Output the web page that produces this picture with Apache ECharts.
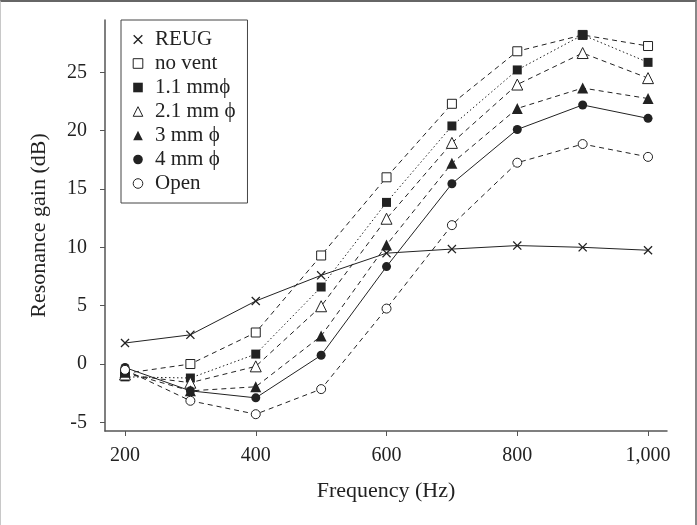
<!DOCTYPE html>
<html>
<head>
<meta charset="utf-8">
<script src="https://cdn.jsdelivr.net/npm/echarts@6/dist/echarts.min.js"></script>
<style>
    html, body { margin: 0; padding: 0; background: #fff; }
    #chart { width: 697px; height: 525px; }
    #frame {
        position: absolute; left: 0; top: 0; width: 697px; height: 525px;
        box-sizing: border-box; pointer-events: none;
        border-top: 2px solid #666; border-right: 2px solid #888; border-left: 1px solid #c8c8c8;
    }
</style>
</head>
<body>
<div id="chart"></div>
<div id="frame"></div>
<script>
// Resonance gain vs frequency

var freqs = [200, 300, 400, 500, 600, 700, 800, 900, 1000];
var xTicks = [200, 400, 600, 800, 1000];
var yTicks = [-5, 0, 5, 10, 15, 20, 25];

var reug   = [1.8, 2.5, 5.4, 7.6, 9.5, 9.85, 10.15, 10.0, 9.75];
var noVent = [-0.8, 0.0, 2.7, 9.3, 16.0, 22.3, 26.8, 28.2, 27.25];
var vent11 = [-1.1, -1.2, 0.85, 6.6, 13.85, 20.4, 25.2, 28.2, 25.85];
var vent21 = [-0.9, -1.6, -0.2, 4.95, 12.45, 18.95, 23.95, 26.65, 24.5];
var vent3  = [-0.7, -2.3, -1.95, 2.4, 10.2, 17.2, 21.9, 23.65, 22.75];
var vent4  = [-0.3, -2.3, -2.9, 0.75, 8.35, 15.45, 20.1, 22.2, 21.05];
var open   = [-0.5, -3.15, -4.3, -2.15, 4.75, 11.9, 17.25, 18.85, 17.75];

var ink = '#222';
var font = "'Liberation Serif', 'DejaVu Serif', serif";
var cross = 'path://M0,1L1,0L5,4L9,0L10,1L6,5L10,9L9,10L5,6L1,10L0,9L4,5Z';

function pairs(vals) {
    return freqs.map(function (f, i) { return [f, vals[i]]; });
}

function line(name, vals, symbol, size, filled, dash) {
    return {
        name: name,
        type: 'line',
        data: pairs(vals),
        symbol: symbol,
        symbolSize: size,
        lineStyle: { color: ink, width: 1, type: dash },
        itemStyle: { color: filled ? ink : '#fff', borderColor: ink, borderWidth: filled ? 0 : 1 }
    };
}

document.addEventListener('DOMContentLoaded', () => {
    echarts.init(document.querySelector('#chart')).setOption({
        animation: false,
        textStyle: { fontFamily: font, color: ink },
        grid: { left: 105, right: 30, top: 20, bottom: 94 },
        legend: {
            orient: 'vertical',
            left: 121,
            top: 20,
            padding: [9, 12, 9, 5],
            itemWidth: 24,
            itemHeight: 12,
            itemGap: 3,
            borderColor: '#444',
            borderWidth: 1,
            itemStyle: { borderWidth: 'inherit' },
            lineStyle: { opacity: 0, width: 0 },
            textStyle: { fontFamily: font, fontSize: 21, lineHeight: 20, color: ink }
        },
        xAxis: {
            type: 'value',
            min: 169.4,
            max: 1029,
            name: 'Frequency (Hz)',
            nameLocation: 'middle',
            nameGap: 49,
            nameTextStyle: { fontSize: 22, color: ink },
            axisLine: { onZero: false, lineStyle: { color: '#555', width: 1.5 } },
            axisTick: { customValues: xTicks, length: 5, lineStyle: { color: '#555' } },
            axisLabel: {
                customValues: xTicks,
                margin: 15,
                fontSize: 20,
                color: ink,
                formatter: function (v) { return v.toLocaleString('en-US'); }
            },
            splitLine: { show: false }
        },
        yAxis: {
            type: 'value',
            min: -5.74,
            max: 29.48,
            name: 'Resonance gain (dB)',
            nameLocation: 'middle',
            nameGap: 55,
            nameTextStyle: { fontSize: 22, color: ink },
            axisLine: { show: true, lineStyle: { color: '#555', width: 1.5 } },
            axisTick: { show: true, customValues: yTicks, length: 5, lineStyle: { color: '#555' } },
            axisLabel: { customValues: yTicks, margin: 18, fontSize: 20, color: ink },
            splitLine: { show: false }
        },
        series: [
            line('REUG', reug, cross, 9, true, 'solid'),
            line('no vent', noVent, 'rect', 9, false, [5, 4]),
            line('1.1 mmϕ', vent11, 'rect', 9, true, [1.5, 2.5]),
            line('2.1 mm ϕ', vent21, 'triangle', 11, false, [5, 4]),
            line('3 mm ϕ', vent3, 'triangle', 11, true, [5, 4]),
            line('4 mm ϕ', vent4, 'circle', 9, true, 'solid'),
            line('Open', open, 'circle', 9, false, [5, 4])
        ]
    });
});
</script>
</body>
</html>
